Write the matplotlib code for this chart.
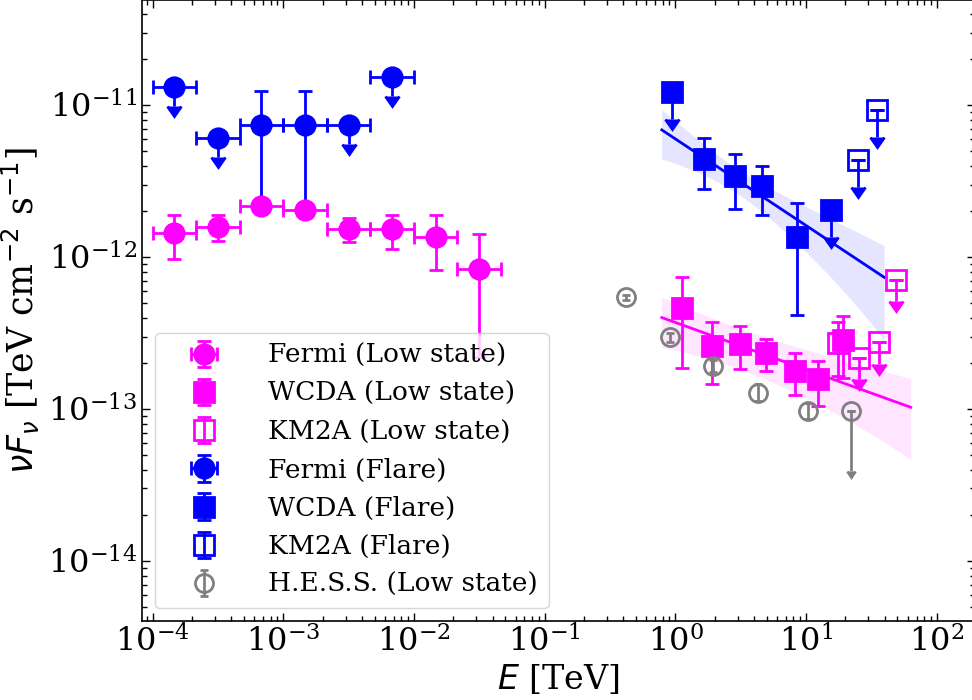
import numpy as np
import matplotlib
matplotlib.use('Agg')
import matplotlib.pyplot as plt

plt.rcParams['font.family'] = 'serif'
plt.rcParams['font.serif'] = ['DejaVu Serif']
plt.rcParams['mathtext.fontset'] = 'dejavusans'

# energies in TeV, fluxes (nuFnu) in TeV cm^-2 s^-1
fermi_low_e = [1.47e-4, 3.16e-4, 6.81e-4, 1.47e-3, 3.16e-3, 6.81e-3, 1.47e-2, 3.16e-2]
fermi_low_elo = [1.0e-4, 2.15e-4, 4.64e-4, 1.0e-3, 2.15e-3, 4.64e-3, 1.0e-2, 2.15e-2]
fermi_low_ehi = [2.15e-4, 4.64e-4, 1.0e-3, 2.15e-3, 4.64e-3, 1.0e-2, 2.15e-2, 4.64e-2]
fermi_low_f = [1.44e-12, 1.58e-12, 2.18e-12, 2.04e-12, 1.53e-12, 1.53e-12, 1.36e-12, 8.3e-13]
fermi_low_flo = [9.7e-13, 1.28e-12, 2.0e-12, 1.88e-12, 1.25e-12, 1.13e-12, 8.2e-13, 2.2e-13]
fermi_low_fhi = [1.9e-12, 1.9e-12, 2.35e-12, 2.2e-12, 1.82e-12, 1.9e-12, 1.9e-12, 1.41e-12]
fermi_low_ul = [False] * 8

fermi_flare_e = [1.47e-4, 3.16e-4, 6.81e-4, 1.47e-3, 3.16e-3, 6.81e-3]
fermi_flare_elo = [1.0e-4, 2.15e-4, 4.64e-4, 1.0e-3, 2.15e-3, 4.64e-3]
fermi_flare_ehi = [2.15e-4, 4.64e-4, 1.0e-3, 2.15e-3, 4.64e-3, 1.0e-2]
fermi_flare_f = [1.32e-11, 6.1e-12, 7.35e-12, 7.35e-12, 7.35e-12, 1.52e-11]
fermi_flare_flo = [np.nan, np.nan, 2.1e-12, 2.0e-12, np.nan, np.nan]
fermi_flare_fhi = [np.nan, np.nan, 1.24e-11, 1.24e-11, np.nan, np.nan]
fermi_flare_ul = [True, True, False, False, True, True]

wcda_low_e = [1.12, 1.92, 3.13, 4.92, 8.24, 12.4, 19.3]
wcda_low_f = [4.59e-13, 2.61e-13, 2.68e-13, 2.32e-13, 1.79e-13, 1.57e-13, 2.84e-13]
wcda_low_flo = [1.85e-13, 1.45e-13, 1.82e-13, 1.78e-13, 1.23e-13, 1.05e-13, 1.6e-13]
wcda_low_fhi = [7.35e-13, 3.75e-13, 3.52e-13, 2.87e-13, 2.35e-13, 2.08e-13, 4.09e-13]
wcda_low_ul = [False] * 7

km2a_low_e = [17.6, 25.2, 35.9, 49.1]
km2a_low_f = [2.72e-13, 2.18e-13, 2.74e-13, 7.1e-13]
km2a_low_flo = [1.65e-13, np.nan, np.nan, np.nan]
km2a_low_fhi = [3.73e-13, np.nan, np.nan, np.nan]
km2a_low_ul = [False, True, True, True]

wcda_flare_e = [0.94, 1.66, 2.86, 4.63, 8.57, 15.4]
wcda_flare_f = [1.22e-11, 4.41e-12, 3.41e-12, 2.93e-12, 1.35e-12, 2.05e-12]
wcda_flare_flo = [np.nan, 2.79e-12, 2.08e-12, 1.9e-12, 4.16e-13, np.nan]
wcda_flare_fhi = [np.nan, 6.06e-12, 4.77e-12, 3.95e-12, 2.28e-12, np.nan]
wcda_flare_ul = [True, False, False, False, False, True]

km2a_flare_e = [24.8, 34.9]
km2a_flare_f = [4.38e-12, 9.31e-12]
km2a_flare_flo = [np.nan, np.nan]
km2a_flare_fhi = [np.nan, np.nan]
km2a_flare_ul = [True, True]

hess_e = [0.418, 0.912, 1.95, 4.27, 10.3, 22.1]
hess_f = [5.43e-13, 2.96e-13, 1.92e-13, 1.28e-13, 9.76e-14, 9.76e-14]
hess_flo = [5.2e-13, 2.76e-13, 1.75e-13, 1.13e-13, 8.6e-14, np.nan]
hess_fhi = [5.65e-13, 3.17e-13, 2.1e-13, 1.45e-13, 1.1e-13, np.nan]
hess_ul = [False, False, False, False, False, True]

# power-law fits: E0 [TeV], nuFnu(E0), photon index, rel. norm error, index error, range
fit_flare = dict(e0=3.0, n0=3.2e-12, gamma=2.57, rel_n=0.186, sig_g=0.227, emin=0.787, emax=39.5)
fit_low = dict(e0=3.0, n0=2.64e-13, gamma=2.31, rel_n=0.30, sig_g=0.15, emin=0.787, emax=63.2)

x_ticks = [1e-4, 1e-3, 1e-2, 1e-1, 1e0, 1e1, 1e2]
y_ticks = [1e-14, 1e-13, 1e-12, 1e-11]


def plot_points(ax, e, f, flo, fhi, ul, color, marker, ul_frac, elo=None, ehi=None,
                mfc=None, ms=14, capsize=5, label=None):
    """Draw one data set with error bars and upper-limit arrows."""
    e = np.array(e)
    f = np.array(f)
    ul = np.array(ul)
    lower = np.where(ul, ul_frac * f, f - np.array(flo))
    upper = np.where(ul, 0.0, np.array(fhi) - f)
    xerr = None
    if elo is not None:
        xerr = [e - np.array(elo), np.array(ehi) - e]
    h = ax.errorbar(e, f, xerr=xerr, yerr=[lower, upper], uplims=ul, fmt=marker,
                    color=color, mfc=mfc if mfc else color, mec=color, ms=ms, mew=2,
                    elinewidth=2, capsize=capsize, capthick=2, label=label)
    if ul.any():
        ax.plot(e[ul], f[ul], ls='none', marker='_', ms=2 * capsize, mew=2, color=color)
    return h


def plot_fit(ax, fit, color):
    """Power-law fit line with its 1 sigma band."""
    e = np.logspace(np.log10(fit['emin']), np.log10(fit['emax']), 200)
    f = fit['n0'] * (e / fit['e0']) ** (2 - fit['gamma'])
    rel = np.sqrt(fit['rel_n'] ** 2 + (fit['sig_g'] * np.log(e / fit['e0'])) ** 2)
    ax.fill_between(e, f * (1 - rel), f * (1 + rel), color=color, alpha=0.1, lw=0)
    ax.plot(e, f, color=color, lw=2)


fig = plt.figure(figsize=(9.72, 7), dpi=100)
ax = fig.add_axes([141.7 / 972, 79 / 700, (975 - 141.7) / 972, 621 / 700])
ax.set_xscale('log')
ax.set_yscale('log')

plot_fit(ax, fit_flare, 'blue')
plot_fit(ax, fit_low, 'magenta')

h_ff = plot_points(ax, fermi_flare_e, fermi_flare_f, fermi_flare_flo, fermi_flare_fhi, fermi_flare_ul,
                   'blue', 'o', 0.25, fermi_flare_elo, fermi_flare_ehi, label='Fermi (Flare)')
h_wf = plot_points(ax, wcda_flare_e, wcda_flare_f, wcda_flare_flo, wcda_flare_fhi, wcda_flare_ul,
                   'blue', 's', 0.34, label='WCDA (Flare)')
h_kf = plot_points(ax, km2a_flare_e, km2a_flare_f, km2a_flare_flo, km2a_flare_fhi, km2a_flare_ul,
                   'blue', 's', 0.34, mfc='none', label='KM2A (Flare)')
h_fl = plot_points(ax, fermi_low_e, fermi_low_f, fermi_low_flo, fermi_low_fhi, fermi_low_ul,
                   'magenta', 'o', 0.25, fermi_low_elo, fermi_low_ehi, label='Fermi (Low state)')
h_wl = plot_points(ax, wcda_low_e, wcda_low_f, wcda_low_flo, wcda_low_fhi, wcda_low_ul,
                   'magenta', 's', 0.28, label='WCDA (Low state)')
h_kl = plot_points(ax, km2a_low_e, km2a_low_f, km2a_low_flo, km2a_low_fhi, km2a_low_ul,
                   'magenta', 's', 0.28, mfc='none', label='KM2A (Low state)')
h_hs = plot_points(ax, hess_e, hess_f, hess_flo, hess_fhi, hess_ul,
                   'gray', 'o', 0.6, mfc='none', ms=13, capsize=3, label='H.E.S.S. (Low state)')

ax.set_xlim(8.26e-5, 196)
ax.set_ylim(4.03e-15, 4.91e-11)
ax.set_xticks(x_ticks)
ax.set_yticks(y_ticks)
ax.tick_params(which='both', direction='in', top=True, right=True, labelsize=23)
ax.tick_params(which='major', length=6, width=1)
ax.tick_params(which='minor', length=3.5, width=1)
for s in ax.spines.values():
    s.set_linewidth(1.2)

ax.set_xlabel('$E$ [TeV]', fontsize=24, labelpad=2)
ax.set_ylabel(r'$\nu F_\nu$ [TeV cm$^{-2}$ s$^{-1}$]', fontsize=25, labelpad=4)

ax.legend(handles=[h_fl, h_wl, h_kl, h_ff, h_wf, h_kf, h_hs], loc='lower left',
          fontsize=19, handlelength=2.9, handletextpad=1.0, labelspacing=0.5)

fig.savefig('out.png', dpi=100)
